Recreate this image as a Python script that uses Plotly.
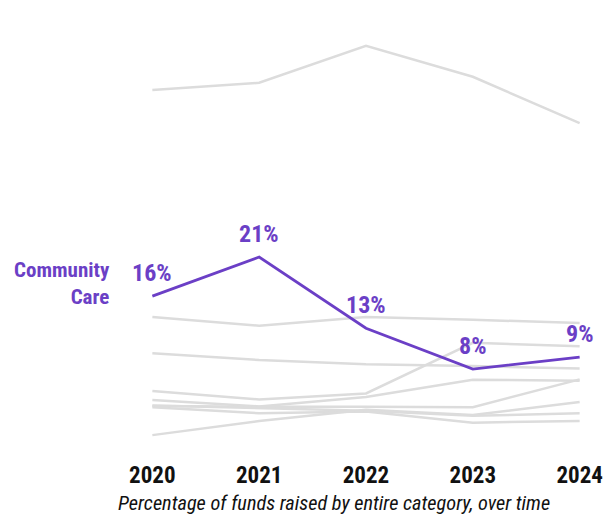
import plotly.graph_objects as go

years = [2020, 2021, 2022, 2023, 2024]
year_labels = ["2020", "2021", "2022", "2023", "2024"]

community_care = [16.35, 20.9, 12.6, 7.85, 9.25]
community_labels = ["16%", "21%", "13%", "8%", "9%"]

other_top = [40.35, 41.2, 45.5, 41.9, 36.5]
other_a = [13.9, 12.9, 13.9, 13.6, 13.2]
other_b = [9.7, 8.9, 8.4, 8.2, 7.9]
other_c = [5.3, 4.3, 5.0, 10.9, 10.5]
other_d = [4.25, 3.5, 4.6, 6.6, 6.5]
other_e = [3.55, 3.45, 3.45, 3.4, 6.65]
other_f = [3.4, 2.7, 2.9, 1.6, 1.8]
other_g = [0.15, 1.8, 3.1, 2.5, 4.0]
other_i = [3.6, 3.3, 3.0, 2.4, 2.7]

others = [other_top, other_a, other_b, other_c, other_d, other_e, other_f, other_g, other_i]

PURPLE = "#6B3FC6"
GRAY = "#DCDCDC"
FONT = "Liberation Sans Narrow, Roboto Condensed, Roboto, sans-serif"

fig = go.Figure()
for s in others:
    fig.add_trace(go.Scatter(x=years, y=s, mode="lines",
                             line=dict(color=GRAY, width=2.5),
                             hoverinfo="skip", showlegend=False))

fig.add_trace(go.Scatter(x=years, y=community_care, mode="lines",
                         line=dict(color=PURPLE, width=2.8),
                         showlegend=False))

for x, y, t in zip(years, community_care, community_labels):
    fig.add_annotation(x=x, y=y, text=t, showarrow=False, yshift=23,
                       font=dict(family=FONT, size=24, color=PURPLE, weight="bold"),
                       xanchor="center", yanchor="middle")

fig.add_annotation(xref="paper", yref="y", x=-0.041, y=17.8,
                   text="Community<br>Care", showarrow=False, align="right",
                   xanchor="right", yanchor="middle",
                   font=dict(family=FONT, size=21, color=PURPLE, weight="bold"))

fig.add_annotation(xref="paper", yref="paper", x=0.432, y=-0.141,
                   text="<i>Percentage of funds raised by entire category, over time</i>",
                   showarrow=False, xanchor="center", yanchor="middle",
                   font=dict(family=FONT, size=20.3, color="#111111"))

fig.update_layout(
    width=606, height=514,
    margin=dict(l=130.6, r=4.6, t=33, b=69),
    paper_bgcolor="white", plot_bgcolor="white",
    xaxis=dict(range=[2019.8, 2024.2], tickvals=years, ticktext=year_labels,
               showgrid=False, zeroline=False, showline=False, ticks="",
               ticklabelstandoff=14,
               tickfont=dict(family=FONT, size=23, color="#111111", weight="bold")),
    yaxis=dict(range=[-1, 47], showgrid=False, zeroline=False,
               showline=False, showticklabels=False, ticks=""),
)

fig.write_html("out.html")
